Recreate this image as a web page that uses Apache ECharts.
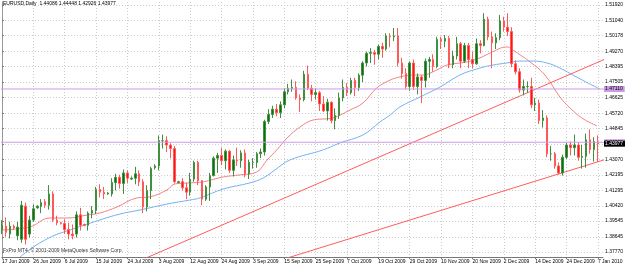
<!DOCTYPE html>
<html>
<head>
<meta charset="utf-8">
<script src="https://cdn.jsdelivr.net/npm/echarts@6/dist/echarts.min.js"></script>
<style>
html,body{margin:0;padding:0;background:#fff}
#chart{width:625px;height:265px}
</style>
</head>
<body>
<div id="chart"></div>
<script>
// daily bars, one entry per bar
var dates = [
    '17 Jun 2009','18 Jun 2009','19 Jun 2009','21 Jun 2009','22 Jun 2009','23 Jun 2009','24 Jun 2009','25 Jun 2009',
    '26 Jun 2009','28 Jun 2009','29 Jun 2009','30 Jun 2009','1 Jul 2009','2 Jul 2009','3 Jul 2009','5 Jul 2009',
    '6 Jul 2009','7 Jul 2009','8 Jul 2009','9 Jul 2009','10 Jul 2009','12 Jul 2009','13 Jul 2009','14 Jul 2009',
    '15 Jul 2009','16 Jul 2009','17 Jul 2009','19 Jul 2009','20 Jul 2009','21 Jul 2009','22 Jul 2009','23 Jul 2009',
    '24 Jul 2009','26 Jul 2009','27 Jul 2009','28 Jul 2009','29 Jul 2009','30 Jul 2009','31 Jul 2009','2 Aug 2009',
    '3 Aug 2009','4 Aug 2009','5 Aug 2009','6 Aug 2009','7 Aug 2009','9 Aug 2009','10 Aug 2009','11 Aug 2009',
    '12 Aug 2009','13 Aug 2009','14 Aug 2009','17 Aug 2009','18 Aug 2009','19 Aug 2009','20 Aug 2009','21 Aug 2009',
    '24 Aug 2009','25 Aug 2009','26 Aug 2009','27 Aug 2009','28 Aug 2009','31 Aug 2009','1 Sep 2009','2 Sep 2009',
    '3 Sep 2009','4 Sep 2009','7 Sep 2009','8 Sep 2009','9 Sep 2009','10 Sep 2009','11 Sep 2009','14 Sep 2009',
    '15 Sep 2009','16 Sep 2009','17 Sep 2009','18 Sep 2009','21 Sep 2009','22 Sep 2009','23 Sep 2009','24 Sep 2009',
    '25 Sep 2009','28 Sep 2009','29 Sep 2009','30 Sep 2009','1 Oct 2009','2 Oct 2009','5 Oct 2009','6 Oct 2009',
    '7 Oct 2009','8 Oct 2009','9 Oct 2009','12 Oct 2009','13 Oct 2009','14 Oct 2009','15 Oct 2009','16 Oct 2009',
    '19 Oct 2009','20 Oct 2009','21 Oct 2009','22 Oct 2009','23 Oct 2009','26 Oct 2009','27 Oct 2009','28 Oct 2009',
    '29 Oct 2009','30 Oct 2009','2 Nov 2009','3 Nov 2009','4 Nov 2009','5 Nov 2009','6 Nov 2009','9 Nov 2009',
    '10 Nov 2009','11 Nov 2009','12 Nov 2009','13 Nov 2009','16 Nov 2009','17 Nov 2009','18 Nov 2009','19 Nov 2009',
    '20 Nov 2009','23 Nov 2009','24 Nov 2009','25 Nov 2009','26 Nov 2009','27 Nov 2009','30 Nov 2009','1 Dec 2009',
    '2 Dec 2009','3 Dec 2009','4 Dec 2009','7 Dec 2009','8 Dec 2009','9 Dec 2009','10 Dec 2009','11 Dec 2009',
    '14 Dec 2009','15 Dec 2009','16 Dec 2009','17 Dec 2009','18 Dec 2009','21 Dec 2009','22 Dec 2009','23 Dec 2009',
    '24 Dec 2009','28 Dec 2009','29 Dec 2009','30 Dec 2009','31 Dec 2009','4 Jan 2010','5 Jan 2010','6 Jan 2010',
    '7 Jan 2010'
];
var tickIdx = [0, 8, 16, 24, 32, 40, 48, 56, 64, 72, 80, 88, 96, 104, 112, 120, 128, 136, 144, 152];
var priceTicks = [1.51920, 1.51040, 1.50178, 1.49270, 1.48395, 1.47505, 1.46625, 1.45720, 1.44845,
    1.43965, 1.43070, 1.42195, 1.41295, 1.40420, 1.39545, 1.38645, 1.37770];

// [open, close, low, high]
var candles = [
    [1.3905,1.3930,1.3880,1.3960],[1.3925,1.3890,1.3865,1.3975],[1.3880,1.3925,1.3855,1.3950],[1.3925,1.3915,1.3905,1.3935],
    [1.3870,1.3920,1.3845,1.3950],[1.3850,1.4045,1.3830,1.4070],[1.4040,1.3850,1.3820,1.4060],[1.3880,1.3960,1.3860,1.3985],
    [1.3960,1.4025,1.3950,1.4050],[1.4030,1.4040,1.4025,1.4045],[1.4040,1.4060,1.4000,1.4080],[1.4065,1.4045,1.4030,1.4080],
    [1.4045,1.4110,1.4020,1.4160],[1.4110,1.3960,1.3950,1.4125],[1.3960,1.3945,1.3930,1.3985],[1.3945,1.3940,1.3935,1.3950],
    [1.3940,1.3905,1.3880,1.3965],[1.3905,1.3880,1.3850,1.3945],[1.3880,1.3870,1.3850,1.3935],[1.3880,1.3990,1.3860,1.4010],
    [1.3990,1.3930,1.3900,1.4030],[1.3935,1.3930,1.3925,1.3940],[1.3930,1.4000,1.3900,1.4010],[1.4000,1.4015,1.3970,1.4040],
    [1.4015,1.4135,1.3995,1.4150],[1.4135,1.4120,1.4090,1.4165],[1.4120,1.4110,1.4080,1.4150],[1.4110,1.4115,1.4105,1.4120],
    [1.4110,1.4175,1.4095,1.4200],[1.4175,1.4205,1.4130,1.4225],[1.4205,1.4170,1.4140,1.4220],[1.4170,1.4230,1.4110,1.4250],
    [1.4230,1.4200,1.4170,1.4245],[1.4195,1.4200,1.4190,1.4210],[1.4200,1.4225,1.4165,1.4265],[1.4225,1.4180,1.4155,1.4245],
    [1.4180,1.4035,1.4000,1.4195],[1.4035,1.4130,1.4010,1.4160],[1.4130,1.4255,1.4080,1.4265],[1.4260,1.4270,1.4250,1.4280],
    [1.4270,1.4415,1.4245,1.4445],[1.4415,1.4415,1.4370,1.4450],[1.4415,1.4390,1.4350,1.4440],[1.4390,1.4370,1.4315,1.4400],
    [1.4370,1.4180,1.4170,1.4385],[1.4175,1.4180,1.4170,1.4185],[1.4180,1.4145,1.4130,1.4200],[1.4145,1.4120,1.4080,1.4175],
    [1.4120,1.4195,1.4100,1.4230],[1.4195,1.4290,1.4180,1.4300],[1.4290,1.4185,1.4160,1.4300],[1.4185,1.4080,1.4045,1.4190],
    [1.4080,1.4150,1.4070,1.4160],[1.4150,1.4215,1.4070,1.4230],[1.4215,1.4315,1.4210,1.4325],[1.4315,1.4330,1.4230,1.4345],
    [1.4330,1.4300,1.4275,1.4375],[1.4300,1.4355,1.4250,1.4365],[1.4355,1.4245,1.4230,1.4360],[1.4245,1.4305,1.4210,1.4330],
    [1.4305,1.4300,1.4270,1.4375],[1.4300,1.4345,1.4260,1.4360],[1.4345,1.4225,1.4205,1.4365],[1.4225,1.4290,1.4195,1.4305],
    [1.4290,1.4290,1.4255,1.4315],[1.4290,1.4340,1.4260,1.4350],[1.4340,1.4350,1.4315,1.4370],[1.4350,1.4525,1.4330,1.4535],
    [1.4525,1.4565,1.4510,1.4595],[1.4565,1.4595,1.4545,1.4615],[1.4595,1.4575,1.4555,1.4625],[1.4575,1.4620,1.4545,1.4640],
    [1.4620,1.4695,1.4600,1.4715],[1.4695,1.4715,1.4680,1.4740],[1.4715,1.4720,1.4695,1.4765],[1.4720,1.4660,1.4650,1.4755],
    [1.4660,1.4650,1.4580,1.4680],[1.4650,1.4795,1.4640,1.4815],[1.4795,1.4715,1.4705,1.4845],[1.4715,1.4680,1.4640,1.4735],
    [1.4680,1.4690,1.4650,1.4715],[1.4690,1.4625,1.4585,1.4700],[1.4625,1.4585,1.4580,1.4670],[1.4585,1.4635,1.4530,1.4655],
    [1.4635,1.4530,1.4515,1.4640],[1.4530,1.4560,1.4480,1.4600],[1.4560,1.4660,1.4540,1.4690],[1.4660,1.4720,1.4640,1.4765],
    [1.4720,1.4690,1.4670,1.4745],[1.4690,1.4760,1.4680,1.4775],[1.4760,1.4720,1.4670,1.4775],[1.4720,1.4790,1.4700,1.4800],
    [1.4790,1.4860,1.4750,1.4870],[1.4860,1.4915,1.4840,1.4925],[1.4915,1.4920,1.4860,1.4945],[1.4920,1.4910,1.4850,1.4935],
    [1.4910,1.4955,1.4880,1.4965],[1.4955,1.4940,1.4890,1.4975],[1.4940,1.5015,1.4930,1.5030],[1.5015,1.5010,1.4950,1.5030],
    [1.5010,1.5015,1.4985,1.5060],[1.5015,1.4860,1.4840,1.5060],[1.4860,1.4800,1.4770,1.4890],[1.4800,1.4725,1.4710,1.4830],
    [1.4725,1.4860,1.4700,1.4870],[1.4860,1.4725,1.4705,1.4880],[1.4725,1.4780,1.4680,1.4800],[1.4780,1.4760,1.4630,1.4790],
    [1.4760,1.4870,1.4720,1.4885],[1.4870,1.4880,1.4775,1.4895],[1.4880,1.4840,1.4810,1.4910],[1.4840,1.4995,1.4830,1.5010],
    [1.4995,1.4985,1.4940,1.5010],[1.4985,1.5000,1.4950,1.5020],[1.5000,1.4850,1.4830,1.5015],[1.4850,1.4900,1.4830,1.4930],
    [1.4900,1.4970,1.4880,1.5010],[1.4970,1.4870,1.4830,1.4980],[1.4870,1.4960,1.4860,1.4975],[1.4960,1.4880,1.4830,1.4975],
    [1.4880,1.4855,1.4830,1.4925],[1.4855,1.4970,1.4850,1.5000],[1.4970,1.4960,1.4915,1.4990],[1.4960,1.5110,1.4955,1.5145],
    [1.5110,1.5010,1.4990,1.5125],[1.5010,1.4975,1.4830,1.5040],[1.4975,1.5005,1.4940,1.5030],[1.5005,1.5100,1.4990,1.5135],
    [1.5100,1.5065,1.5040,1.5125],[1.5065,1.5040,1.5015,1.5145],[1.5040,1.4855,1.4835,1.5065],[1.4855,1.4810,1.4795,1.4875],
    [1.4810,1.4705,1.4690,1.4830],[1.4705,1.4725,1.4675,1.4765],[1.4725,1.4725,1.4690,1.4755],[1.4725,1.4620,1.4600,1.4775],
    [1.4620,1.4630,1.4585,1.4660],[1.4630,1.4530,1.4510,1.4650],[1.4530,1.4545,1.4490,1.4590],[1.4545,1.4340,1.4320,1.4560],
    [1.4340,1.4340,1.4300,1.4385],[1.4340,1.4270,1.4255,1.4350],[1.4270,1.4230,1.4220,1.4290],[1.4230,1.4320,1.4215,1.4335],
    [1.4320,1.4390,1.4310,1.4405],[1.4390,1.4375,1.4330,1.4410],[1.4375,1.4390,1.4330,1.4450],[1.4390,1.4320,1.4300,1.4405],
    [1.4320,1.4325,1.4255,1.4390],[1.4325,1.4420,1.4260,1.4455],[1.4420,1.4365,1.4340,1.4480],[1.4365,1.4410,1.4295,1.4435],
    [1.44086,1.43977,1.42926,1.44448]
];

// moving averages: [bar, price]
var maRed = [
    [-0.5,1.3903],[7.1,1.3921],[12.2,1.3972],[16.6,1.3972],[21.7,1.3989],[25.0,1.4001],[29.3,1.4035],[34.4,1.4087],
    [37.7,1.4093],[42.1,1.4133],[44.1,1.4167],[47.9,1.4173],[51.3,1.4179],[56.4,1.4207],[60.7,1.4219],[65.0,1.4236],
    [67.6,1.4304],[70.1,1.4362],[72.7,1.4430],[76.0,1.4493],[79.3,1.4533],[84.4,1.4545],[88.8,1.4591],[92.1,1.4631],
    [95.6,1.4717],[99.0,1.4762],[101.5,1.4780],[104.8,1.4791],[107.4,1.4791],[110.9,1.4820],[113.5,1.4848],[118.6,1.4866],
    [121.9,1.4889],[124.5,1.4917],[128.8,1.4952],[130.3,1.4934],[134.7,1.4866],[138.5,1.4791],[142.3,1.4665],[144.9,1.4602],
    [147.9,1.4545],[151.8,1.4499]
];
var maBlue = [
    [4.6,1.3749],[8.4,1.3812],[13.0,1.3869],[16.6,1.3898],[25.0,1.3961],[30.1,1.3995],[35.2,1.4018],[42.1,1.4052],
    [47.9,1.4075],[50.5,1.4087],[56.4,1.4138],[63.2,1.4173],[66.6,1.4201],[69.6,1.4247],[73.4,1.4304],[81.9,1.4362],
    [86.2,1.4402],[92.1,1.4448],[96.4,1.4522],[99.0,1.4562],[101.5,1.4608],[106.6,1.4665],[111.7,1.4722],[116.8,1.4791],
    [121.9,1.4831],[125.2,1.4848],[128.8,1.4860],[132.1,1.4871],[135.4,1.4871],[139.0,1.4860],[142.3,1.4831],[146.1,1.4785],
    [149.9,1.4740],[152.5,1.4711]
];

// trend lines and horizontal levels
var trendA = [[30, 1.36773], [160, 1.49422]];
var trendB = [[70, 1.37236], [160, 1.43498]];
var levels = [1.47110, 1.44060];

var last = candles[candles.length - 1];
var bid = last[1];
var header = 'EURUSD,Daily  ' + [last[0], last[3], last[2], last[1]].map(function (v) { return v.toFixed(5); }).join(' ');

var font = 'Liberation Sans';
var gridLine = {show: true, lineStyle: {color: '#cccccc', width: 1, type: [1, 2]}};
var purple = '#cc9be6';
var yMin = 1.37487, yMax = 1.52092;

// an axis used only to put a coloured price tag on the scale
function tagAxis(values, bg, fg) {
    return {
        type: 'value', position: 'right', min: yMin, max: yMax,
        axisLine: {show: false}, axisTick: {show: false}, splitLine: {show: false},
        axisLabel: {
            customValues: values, margin: 1, fontSize: 5, fontFamily: font, hideOverlap: false,
            color: fg, backgroundColor: bg, padding: [1, 2, 0, 1],
            formatter: function (v) { return v.toFixed(5); }
        }
    };
}

var levelSeries = levels.map(function (v) {
    return {
        type: 'line', data: [[-5, v], [160, v]], showSymbol: false, z: 4,
        lineStyle: {color: purple, width: 1, type: 'solid'}
    };
});

var chart = echarts.init(document.getElementById('chart'), null, {renderer: 'canvas'});
chart.setOption({
    animation: false,
    backgroundColor: '#fff',
    textStyle: {fontFamily: font},
    title: [{
        text: header, left: 3, top: 1, padding: 0,
        textStyle: {fontSize: 5, fontWeight: 'normal', color: '#000', fontFamily: font}
    }, {
        text: 'FxPro MT4, © 2001-2009 MetaQuotes Software Corp.', left: 3, top: 248, padding: 0,
        textStyle: {fontSize: 5, fontWeight: 'normal', color: '#333', fontFamily: font}
    }],
    grid: {left: 2, right: 22, top: 2, bottom: 8, containLabel: false, outerBoundsMode: 'none'},
    xAxis: {
        type: 'value', min: 0, max: 153.3,
        axisLine: {show: true, lineStyle: {color: '#777', width: 1}},
        axisTick: {show: true, customValues: tickIdx, length: 2, lineStyle: {color: '#777'}},
        axisLabel: {
            customValues: tickIdx, align: 'left', margin: 2, fontSize: 5, color: '#000', fontFamily: font,
            formatter: function (v) { return dates[Math.round(v)] || ''; }
        },
        splitLine: gridLine
    },
    yAxis: [{
        type: 'value', position: 'right', min: yMin, max: yMax,
        axisLine: {show: true, lineStyle: {color: '#777', width: 1}},
        axisTick: {show: true, customValues: priceTicks, length: 2, lineStyle: {color: '#777'}},
        axisLabel: {
            customValues: priceTicks, margin: 2, fontSize: 5, color: '#000', fontFamily: font,
            formatter: function (v) { return v.toFixed(5); }
        },
        splitLine: gridLine
    }, {
        type: 'value', position: 'left', min: yMin, max: yMax,
        axisLine: {show: true, lineStyle: {color: '#999', width: 1}},
        axisTick: {show: false}, axisLabel: {show: false}, splitLine: {show: false}
    },
        tagAxis(levels, purple, '#000'),
        tagAxis([bid], '#000', '#fff')
    ],
    series: [{
        type: 'candlestick',
        data: candles.map(function (d, i) { return [i, d[0], d[1], d[2], d[3]]; }),
        barWidth: 2,
        itemStyle: {
            color: '#0f6e0f', color0: '#ff1414',
            borderColor: '#3f8f3f', borderColor0: '#ff5a5a', borderWidth: 1
        },
        z: 3
    }, {
        type: 'line', data: maRed, smooth: 0.4, showSymbol: false,
        lineStyle: {color: '#f28282', width: 1}, z: 2
    }, {
        type: 'line', data: maBlue, smooth: 0.4, showSymbol: false,
        lineStyle: {color: '#72b2f2', width: 1}, z: 2
    }, {
        type: 'line', data: trendA, showSymbol: false,
        lineStyle: {color: '#ff5c5c', width: 1}, z: 2
    }, {
        type: 'line', data: trendB, showSymbol: false,
        lineStyle: {color: '#ff5c5c', width: 1}, z: 2
    }].concat(levelSeries)
});
</script>
</body>
</html>
